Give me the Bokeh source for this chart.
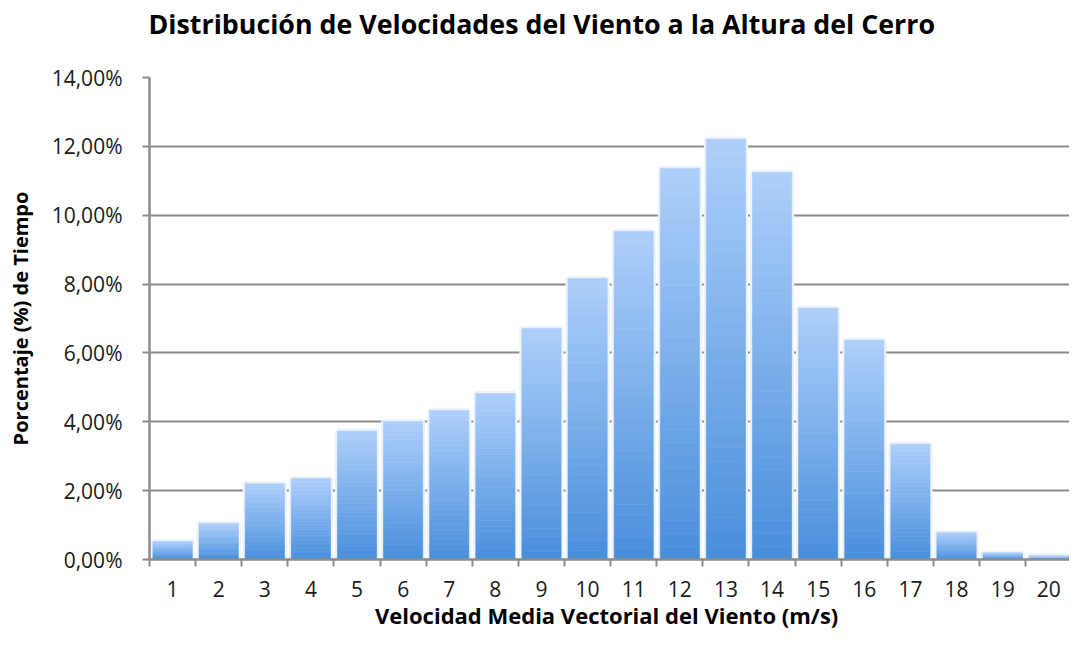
from bokeh.plotting import figure
from bokeh.models import Range1d, FixedTicker, ColumnDataSource, Title
from bokeh.embed import file_html
from bokeh.resources import INLINE

# ---- data ----
speeds = list(range(1, 21))                      # m/s categories
percent = [0.52, 1.05, 2.20, 2.35, 3.73, 4.01, 4.33, 4.82, 6.71, 8.16,
           9.53, 11.36, 12.21, 11.24, 7.30, 6.37, 3.35, 0.78, 0.19, 0.10]
y_ticks = [0, 2, 4, 6, 8, 10, 12, 14]
y_tick_labels = ["0,00%", "2,00%", "4,00%", "6,00%", "8,00%", "10,00%", "12,00%", "14,00%"]

title_text = "Distribución de Velocidades del Viento a la Altura del Cerro"
x_title = "Velocidad Media  Vectorial del Viento (m/s)"
y_title = "Porcentaje (%) de Tiempo"

FONT = "Open Sans"
GRID = "#8c8c8c"
TOP_RGB = (172, 206, 250)
BOT_RGB = (74, 143, 220)
BAR_W = 0.85
N_SLICES = 30

X0, X1 = 0.5, 20.45
Y0, Y1 = 0, 14

p = figure(width=1069, height=632, output_backend="svg", toolbar_location=None,
           x_range=Range1d(X0, X1), y_range=Range1d(Y0, Y1),
           min_border_left=149, min_border_right=0, min_border_top=77,
           min_border_bottom=73, outline_line_color=None, tools="")

# white halo behind each bar (hides the gridlines around the bars)
p.vbar(x=speeds, top=percent, width=BAR_W, fill_color="white",
       line_color="#eef3fa", line_width=5)

# vertical gradient per bar, built as thin stacked slices of each bar
xs, bots, tops, cols = [], [], [], []
for s, v in zip(speeds, percent):
    for k in range(N_SLICES):
        t = k / (N_SLICES - 1)
        r = round(BOT_RGB[0] + (TOP_RGB[0] - BOT_RGB[0]) * t)
        g = round(BOT_RGB[1] + (TOP_RGB[1] - BOT_RGB[1]) * t)
        b = round(BOT_RGB[2] + (TOP_RGB[2] - BOT_RGB[2]) * t)
        xs.append(s)
        bots.append(v * k / N_SLICES)
        tops.append(v * (k + 1) / N_SLICES)
        cols.append("#%02x%02x%02x" % (r, g, b))
src = ColumnDataSource(dict(x=xs, bottom=bots, top=tops, color=cols))
p.vbar(x="x", bottom="bottom", top="top", width=BAR_W, source=src,
       fill_color="color", line_color="color", line_width=0.6)

# spacer between plot area and title, then the title itself
p.add_layout(Title(text=" ", text_font_size="1px", standoff=33), "above")
p.add_layout(Title(text=title_text, text_font=FONT, text_font_size="26.8px",
                   text_font_style="bold", text_color="#000000",
                   align="left", offset=-1, standoff=0), "above")

# grid
p.xgrid.visible = False
p.ygrid.ticker = FixedTicker(ticks=y_ticks)
p.ygrid.grid_line_color = GRID
p.ygrid.grid_line_width = 2

# y axis
ya = p.yaxis[0]
ya.ticker = FixedTicker(ticks=y_ticks)
ya.major_label_overrides = {t: l for t, l in zip(y_ticks, y_tick_labels)}
ya.axis_line_color = GRID
ya.axis_line_width = 2.5
ya.major_tick_line_color = GRID
ya.major_tick_line_width = 2
ya.major_tick_in = 0
ya.major_tick_out = 7
ya.minor_tick_line_color = None
ya.major_label_text_font = FONT
ya.major_label_text_font_size = "21px"
ya.major_label_text_color = "#1a1a1a"
ya.major_label_standoff = 20
ya.axis_label = y_title
ya.axis_label_text_font = FONT
ya.axis_label_text_font_size = "20px"
ya.axis_label_text_font_style = "bold"
ya.axis_label_text_color = "#000000"
ya.axis_label_standoff = 15

# x axis: labels at category centres, ticks at category boundaries
xa = p.xaxis[0]
xa.ticker = FixedTicker(ticks=speeds, minor_ticks=[s - 0.5 for s in speeds] + [speeds[-1] + 0.5])
xa.axis_line_color = GRID
xa.axis_line_width = 2.5
xa.major_tick_in = 0
xa.major_tick_out = 0
xa.major_tick_line_color = None
xa.minor_tick_in = 0
xa.minor_tick_out = 7
xa.minor_tick_line_color = GRID
xa.minor_tick_line_width = 2
xa.major_label_text_font = FONT
xa.major_label_text_font_size = "21px"
xa.major_label_text_color = "#1a1a1a"
xa.major_label_standoff = 14
xa.axis_label = x_title
xa.axis_label_text_font = FONT
xa.axis_label_text_font_size = "22px"
xa.axis_label_text_font_style = "bold"
xa.axis_label_text_color = "#000000"
xa.axis_label_standoff = 0

open("out.html", "w").write(file_html(p, INLINE))
